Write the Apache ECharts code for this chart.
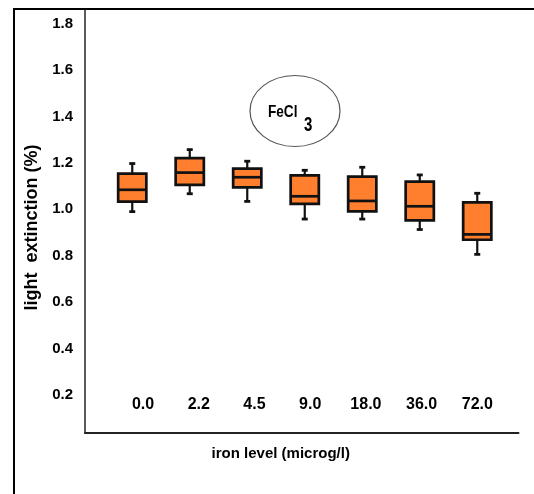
<!DOCTYPE html>
<html>
<head>
<meta charset="utf-8">
<script src="https://cdn.jsdelivr.net/npm/echarts@6/dist/echarts.min.js"></script>
<style>
    html, body { margin: 0; padding: 0; background: #fff; }
    #chart { width: 534px; height: 494px; }
</style>
</head>
<body>
<div id="chart"></div>
<script>
// iron level categories (microg/l)
var categories = ["0.0", "2.2", "4.5", "9.0", "18.0", "36.0", "72.0"];
// box plot statistics, light extinction (%)
var whiskerLow = [0.99, 1.067, 1.034, 0.958, 0.958, 0.913, 0.806];
var quartile1 = [1.033, 1.105, 1.094, 1.023, 0.991, 0.952, 0.869];
var median = [1.084, 1.158, 1.138, 1.056, 1.036, 1.013, 0.892];
var quartile3 = [1.154, 1.22, 1.175, 1.146, 1.141, 1.119, 1.03];
var whiskerHigh = [1.197, 1.257, 1.207, 1.168, 1.181, 1.148, 1.069];
// y tick labels
var yTicks = [0.2, 0.4, 0.6, 0.8, 1.0, 1.2, 1.4, 1.6, 1.8];

var Y_MIN = 0.037;
var Y_MAX = 1.858;
var BOX_COLOR = "#ff7f2e";
var INK = "#111";
var FONT = "Liberation Sans, Arial, sans-serif";

var boxData = [];
for (let i = 0; i < categories.length; i++) {
    boxData.push([i, whiskerLow[i], quartile1[i], median[i], quartile3[i], whiskerHigh[i]]);
}

function renderBox(params, api) {
    let idx = api.value(0);
    let lo = api.coord([idx, api.value(1)]);
    let q1 = api.coord([idx, api.value(2)]);
    let md = api.coord([idx, api.value(3)]);
    let q3 = api.coord([idx, api.value(4)]);
    let hi = api.coord([idx, api.value(5)]);
    let w = api.size([1, 0])[0] * 0.49;
    let cx = md[0];
    let cap = 3;
    return {
        type: "group",
        children: [
            {type: "line", shape: {x1: cx, y1: hi[1], x2: cx, y2: lo[1]}, style: {stroke: INK, lineWidth: 2.2}},
            {type: "line", shape: {x1: cx - cap, y1: hi[1], x2: cx + cap, y2: hi[1]}, style: {stroke: INK, lineWidth: 2.8}},
            {type: "line", shape: {x1: cx - cap, y1: lo[1], x2: cx + cap, y2: lo[1]}, style: {stroke: INK, lineWidth: 2.8}},
            {type: "rect", shape: {x: cx - w / 2, y: q3[1], width: w, height: q1[1] - q3[1]},
                style: {fill: BOX_COLOR, stroke: INK, lineWidth: 2.7}},
            {type: "line", shape: {x1: cx - w / 2, y1: md[1], x2: cx + w / 2, y2: md[1]}, style: {stroke: INK, lineWidth: 2.7}}
        ]
    };
}

var myChart = echarts.init(document.getElementById("chart"));

var option = {
    backgroundColor: "#fff",
    animation: false,
    grid: [
        {left: 85, right: 15.5, top: 10, bottom: 61},
        {left: 103.5, right: 28, top: 10, bottom: 61},
        {left: 115.2, right: 28.8, top: 10, bottom: 61}
    ],
    xAxis: [
        {
            gridIndex: 0, type: "value", min: 0, max: 1,
            axisLine: {show: true, lineStyle: {color: "#222", width: 2}},
            axisTick: {show: false}, axisLabel: {show: false}, splitLine: {show: false},
            name: "iron level (microg/l)",
            nameLocation: "middle",
            nameGap: 13,
            nameTextStyle: {
                fontFamily: FONT, fontWeight: "bold",
                fontSize: 15, color: "#000", verticalAlign: "top", padding: [0, 42, 0, 0]
            }
        },
        {gridIndex: 1, type: "category", data: categories, show: false},
        {
            gridIndex: 2, type: "category", data: categories,
            axisLine: {show: false}, axisTick: {show: false}, splitLine: {show: false},
            axisLabel: {
                margin: -28, verticalAlign: "middle", color: "#000",
                fontFamily: FONT, fontWeight: "bold", fontSize: 16
            }
        }
    ],
    yAxis: [
        {
            gridIndex: 0, type: "value", min: Y_MIN, max: Y_MAX,
            axisLine: {show: true, lineStyle: {color: "#222", width: 1.5}},
            axisTick: {show: false}, splitLine: {show: false},
            axisLabel: {
                customValues: yTicks, margin: 12, color: "#000",
                fontFamily: FONT, fontWeight: "bold", fontSize: 15,
                formatter: function (v) { return Number(v).toFixed(1); }
            },
            name: "light  extinction (%)",
            nameLocation: "middle",
            nameGap: 37,
            nameTextStyle: {
                fontFamily: FONT, fontWeight: "bold",
                fontSize: 18, color: "#000", padding: [0, 12, 0, 0]
            }
        },
        {gridIndex: 1, type: "value", min: Y_MIN, max: Y_MAX, show: false},
        {gridIndex: 2, type: "value", min: 0, max: 1, show: false}
    ],
    series: [{
        type: "custom",
        xAxisIndex: 1,
        yAxisIndex: 1,
        renderItem: renderBox,
        encode: {x: 0, y: [1, 2, 3, 4, 5]},
        data: boxData
    }],
    graphic: [
        // outer frame (top and left only)
        {type: "line", shape: {x1: 13, y1: 9, x2: 534, y2: 9}, style: {stroke: "#000", lineWidth: 2}},
        {type: "line", shape: {x1: 14, y1: 8, x2: 14, y2: 494}, style: {stroke: "#000", lineWidth: 2}},
        // FeCl3 label
        {type: "ellipse", shape: {cx: 295, cy: 111, rx: 45, ry: 35.5}, style: {fill: "none", stroke: "#555", lineWidth: 1.2}},
        {
            type: "text", x: 268, y: 104, scaleX: 0.8,
            style: {text: "FeCl", fontFamily: FONT, fontWeight: "bold", fontSize: 17, fill: "#000"}
        },
        {
            type: "text", x: 304, y: 115, scaleX: 0.75,
            style: {text: "3", fontFamily: FONT, fontWeight: "bold", fontSize: 20, fill: "#000"}
        }
    ]
};

myChart.setOption(option);
</script>
</body>
</html>
